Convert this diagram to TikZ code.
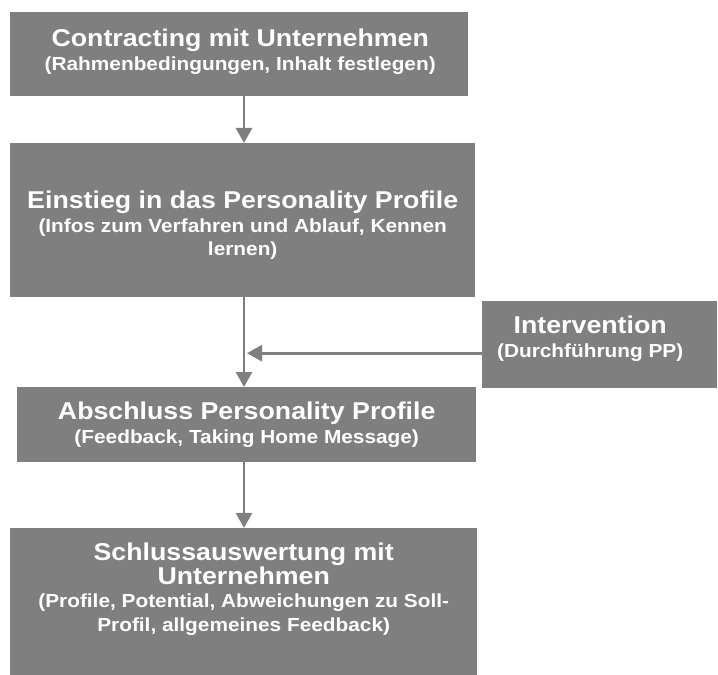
\documentclass[tikz,border=0pt]{standalone}
\usepackage{fontspec}
\usepackage{tikz}
\usetikzlibrary{arrows.meta,calc,positioning}
\newfontfamily\boxfont{Liberation Sans}[FakeStretch=1.1]
\definecolor{slate}{HTML}{7F7F7F}
\newcommand{\hd}[1]{{\fontsize{24.4}{24}\selectfont #1}}

\begin{document}
\begin{tikzpicture}[x=1bp,y=-1bp,
  stage/.style={fill=slate,draw=none,inner sep=0pt,anchor=north west},
  lbl/.style={text=white,align=center,inner sep=0pt,font=\boxfont\bfseries\fontsize{19}{24}\selectfont},
  flow/.style={draw=slate,line width=2.8bp,-{Triangle[width=16bp,length=15bp]}}]
  \useasboundingbox (0,0) rectangle (718,675);
  \coordinate (spine) at (244,0);

  % boxes
  \node[stage,minimum width=458bp,minimum height=84bp] (contract) at (10,12) {};
  \node[stage,minimum width=465bp,minimum height=154bp] (profile) at (10,143) {};
  \node[stage,minimum width=235bp,minimum height=87bp] (interv) at (482,301) {};
  \node[stage,minimum width=459bp,minimum height=75bp] (closing) at (17,387) {};
  \node[stage,minimum width=467bp,minimum height=147bp] (final) at (10,528) {};

  % texts
  \node[lbl] (contract-t) at ($(contract.center)+(1,-2.5)$)
    {\hd{Contracting mit Unternehmen}\\(Rahmenbedingungen, Inhalt festlegen)};
  \node[lbl] (profile-t) at ($(profile.center)+(0,5)$)
    {\hd{Einstieg in das Personality Profile}\\(Infos zum Verfahren und Ablauf, Kennen\\lernen)};
  \node[lbl] (interv-t) at ($(interv.center)+(-9.5,-6)$)
    {\hd{Intervention}\\(Durchführung PP)};
  \node[lbl] (closing-t) at ($(closing.center)+(0,0)$)
    {\hd{Abschluss Personality Profile}\\(Feedback, Taking Home Message)};
  \node[lbl] (final-t) at ($(final.center)+(0,-12.5)$)
    {\hd{Schlussauswertung mit}\\\hd{Unternehmen}\\(Profile, Potential, Abweichungen zu Soll-\\Profil, allgemeines Feedback)};

  % connectors
  \coordinate (feed) at ($(interv.west)+(0,8.5)$);
  \draw[flow] (contract.south -| spine) -- (profile.north -| spine);
  \draw[flow] (profile.south -| spine) -- (closing.north -| spine);
  \draw[flow] (feed) -- ($(feed -| spine)+(3,0)$);
  \draw[flow] (closing.south -| spine) -- (final.north -| spine);
\end{tikzpicture}
\end{document}
